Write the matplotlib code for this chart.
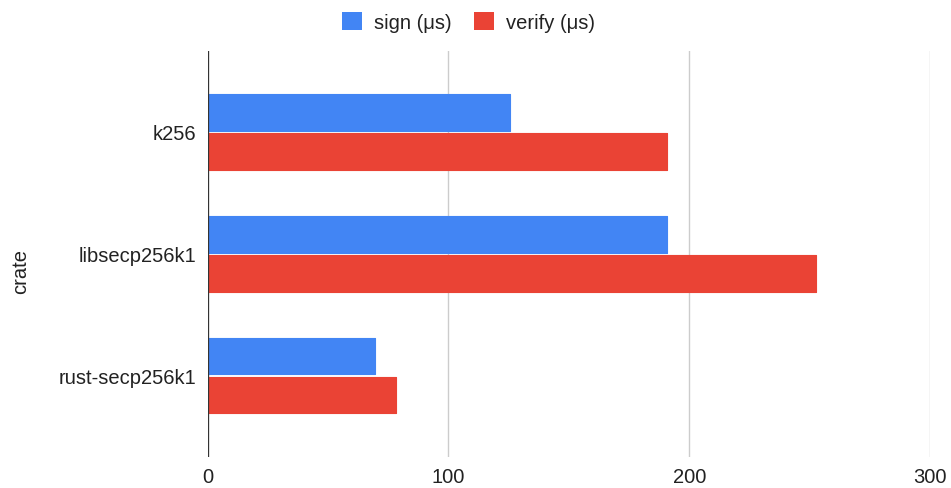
import matplotlib.pyplot as plt
import numpy as np
from matplotlib.patches import Patch

crates = ['k256', 'libsecp256k1', 'rust-secp256k1']
sign_us = [125.6, 190.8, 69.5]
verify_us = [190.9, 252.7, 78.4]

BLUE = '#4285F4'
RED = '#EA4335'

plt.rcParams['font.family'] = ['Liberation Sans', 'DejaVu Sans']

fig = plt.figure(figsize=(9.51, 4.89), dpi=100)
ax = fig.add_axes([0.2184, 0.0634, 0.7595, 0.831])

y = np.arange(len(crates))
h = 0.30
ax.barh(y - 0.16, sign_us, height=h, color=BLUE, edgecolor=BLUE,
        linewidth=0.8, joinstyle='round', zorder=3)
ax.barh(y + 0.16, verify_us, height=h, color=RED, edgecolor=RED,
        linewidth=0.8, joinstyle='round', zorder=3)

ax.set_xlim(0, 300)
ax.set_ylim(2.667, -0.667)
ax.set_xticks([0, 100, 200, 300])
ax.set_yticks(y)
ax.set_yticklabels(crates)

ax.grid(axis='x', color='#cccccc', linewidth=1, zorder=0)
ax.axvline(0, color='#333333', linewidth=1.6, zorder=4)
for s in ax.spines.values():
    s.set_visible(False)
ax.tick_params(length=0, labelsize=14.5, colors='#222222')
ax.tick_params(axis='x', pad=7)
ax.tick_params(axis='y', pad=8)

fig.text(0.022, 0.445, 'crate', rotation=90, fontsize=14.5, color='#222222',
         ha='center', va='center')

handles = [Patch(facecolor=BLUE, label='sign (\u03bcs)'),
           Patch(facecolor=RED, label='verify (\u03bcs)')]
fig.legend(handles=handles, loc='upper center', bbox_to_anchor=(0.493, 1.01),
           ncol=2, frameon=False, fontsize=14.5, handlelength=1.0,
           handleheight=1.0, handletextpad=0.6, columnspacing=1.1,
           labelcolor='#222222')

fig.savefig('out.png', dpi=100)
